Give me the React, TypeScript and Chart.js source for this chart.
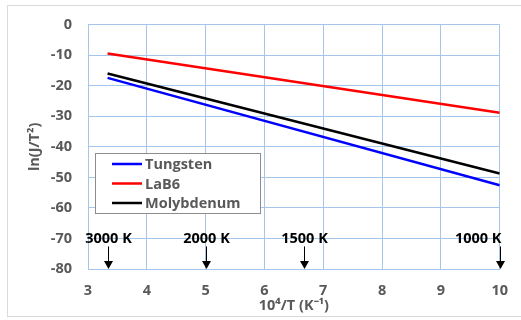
import React, { useEffect, useRef } from "react";
import { Chart, registerables } from "chart.js";

Chart.register(...registerables);

const seriesNames = ["Tungsten", "LaB6", "Molybdenum"];
const seriesColors = ["#0000ff", "#ff0000", "#000000"];
const xValues = [3.333, 10];
const tungsten = [-17.4, -52.6];
const lab6 = [-9.4, -28.8];
const molybdenum = [-16.0, -48.7];
const temperatures = [3000, 2000, 1500, 1000];
const tempLabels = ["3000 K", "2000 K", "1500 K", "1000 K"];
const labelLevel = -70;

const GRID = "#a3c6ea";
const TICK = "#595959";
const FONT = "'Open Sans', sans-serif";

const overlayPlugin = {
  id: "overlay",
  afterDraw(chart: any) {
    const { ctx, chartArea, scales } = chart;
    const xs = scales.x;
    const ys = scales.y;
    ctx.save();
    // temperature annotations
    ctx.font = `bold 14.5px ${FONT}`;
    ctx.fillStyle = "#000";
    ctx.strokeStyle = "#000";
    ctx.textBaseline = "middle";
    const ty = ys.getPixelForValue(labelLevel);
    temperatures.forEach((t, i) => {
      const px = Math.round(xs.getPixelForValue(1e4 / t)) + 0.5;
      const last = i === temperatures.length - 1;
      ctx.textAlign = last ? "right" : "center";
      ctx.fillText(tempLabels[i], last ? px + 1 : px, ty);
      ctx.lineWidth = 1;
      ctx.beginPath();
      ctx.moveTo(px, ty + 8);
      ctx.lineTo(px, chartArea.bottom - 6);
      ctx.stroke();
      ctx.beginPath();
      ctx.moveTo(px - 4.5, chartArea.bottom - 8);
      ctx.lineTo(px + 4.5, chartArea.bottom - 8);
      ctx.lineTo(px, chartArea.bottom);
      ctx.closePath();
      ctx.fill();
    });
    // legend
    const lx = 95.5, ly = 153.5, lw = 165, lh = 60;
    ctx.fillStyle = "#fff";
    ctx.fillRect(lx, ly, lw, lh);
    ctx.strokeStyle = "#8c8c8c";
    ctx.lineWidth = 1;
    ctx.strokeRect(lx, ly, lw, lh);
    ctx.font = `bold 14.5px ${FONT}`;
    ctx.textAlign = "left";
    ctx.textBaseline = "middle";
    chart.data.datasets.forEach((ds: any, i: number) => {
      const y = 164 + i * 19.5;
      ctx.strokeStyle = ds.borderColor;
      ctx.lineWidth = 2.5;
      ctx.beginPath();
      ctx.moveTo(112, y);
      ctx.lineTo(142, y);
      ctx.stroke();
      ctx.fillStyle = TICK;
      ctx.fillText(ds.label, 145, y + 1);
    });
    ctx.restore();
  },
};

export default function App() {
  const ref = useRef<HTMLCanvasElement>(null);
  useEffect(() => {
    const all = [tungsten, lab6, molybdenum];
    const chart = new Chart(ref.current!, {
      type: "line",
      data: {
        datasets: all.map((vals, i) => ({
          label: seriesNames[i],
          data: xValues.map((x, j) => ({ x, y: vals[j] })),
          borderColor: seriesColors[i],
          backgroundColor: seriesColors[i],
          borderWidth: 2.5,
          pointRadius: 0,
          tension: 0,
        })),
      },
      options: {
        animation: false,
        responsive: false,
        events: [],
        layout: { padding: { left: 0, top: 22, right: 17, bottom: 0 } },
        plugins: { legend: { display: false }, tooltip: { enabled: false } },
        scales: {
          x: {
            type: "linear",
            min: 3,
            max: 10,
            afterFit: (s: any) => { s.height = 51; },
            ticks: { stepSize: 1, color: TICK, padding: 13, font: { family: FONT, size: 14.5, weight: "bold" } },
            grid: { color: GRID, drawTicks: false },
            border: { color: GRID },
            title: {
              display: true,
              text: "10⁴/T (K⁻¹)",
              color: TICK,
              font: { family: FONT, size: 14.5, weight: "bold" },
              padding: { top: 0, bottom: 5 },
            },
          },
          y: {
            type: "linear",
            min: -80,
            max: 0,
            afterFit: (s: any) => { s.width = 88; },
            ticks: { stepSize: 10, color: TICK, padding: 16, font: { family: FONT, size: 14.5, weight: "bold" } },
            grid: { color: GRID, drawTicks: false },
            border: { color: GRID },
            title: {
              display: true,
              text: "ln(J/T²)",
              color: TICK,
              font: { family: FONT, size: 14.5, weight: "bold" },
              padding: { top: 26, bottom: 0 },
            },
          },
        },
      },
      plugins: [overlayPlugin],
    });
    return () => chart.destroy();
  }, []);
  return (
    <div style={{ position: "fixed", left: 0, top: 0, width: 521, height: 320, background: "#fff" }}>
      <div style={{ position: "absolute", left: 7, top: 5, width: 530, height: 312, border: "1px solid #d9d9d9", boxSizing: "border-box" }} />
      <canvas ref={ref} width={521} height={320} style={{ position: "absolute", left: 0, top: 0, width: 521, height: 320 }} />
    </div>
  );
}
